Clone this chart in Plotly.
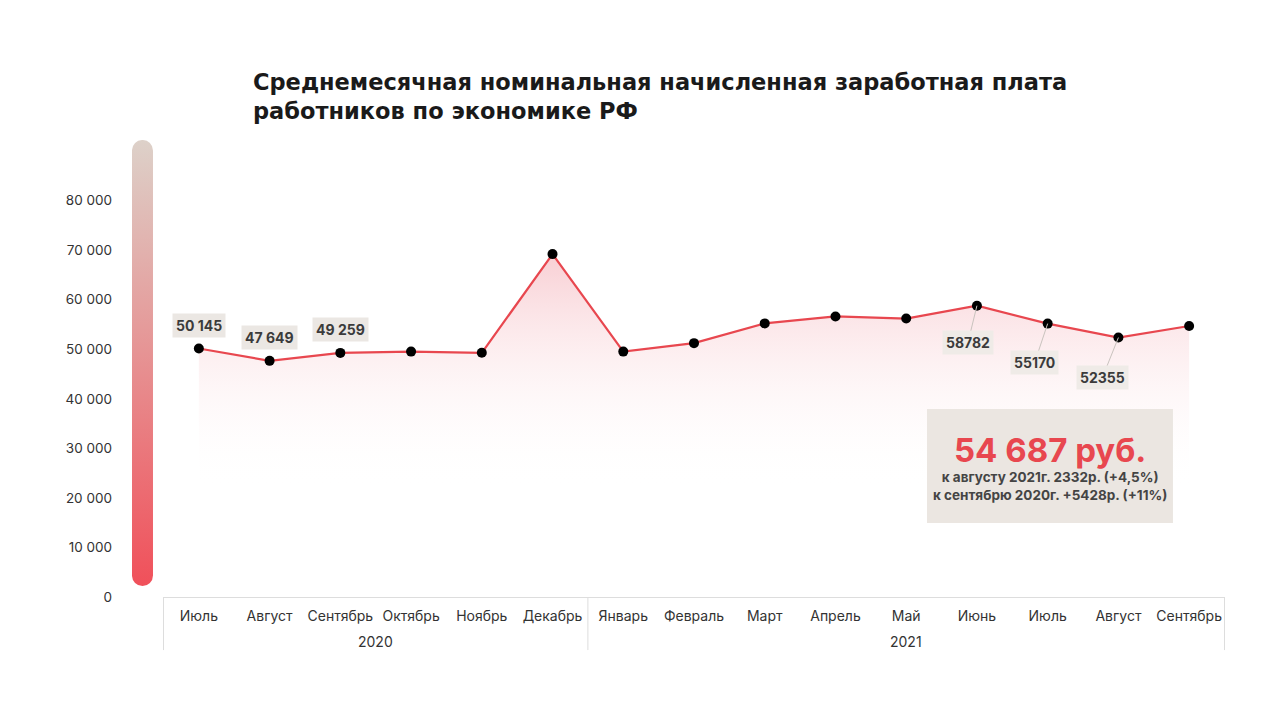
import base64
import plotly.graph_objects as go

# Data
years = ["2020"] * 6 + ["2021"] * 9
months = ["Июль", "Август", "Сентябрь", "Октябрь", "Ноябрь", "Декабрь",
          "Январь", "Февраль", "Март", "Апрель", "Май", "Июнь", "Июль", "Август", "Сентябрь"]
salary = [50145, 47649, 49259, 49516, 49274, 69191,
          49516, 51229, 55208, 56614, 56186, 58782, 55170, 52355, 54687]
y_ticks = [0, 10000, 20000, 30000, 40000, 50000, 60000, 70000, 80000]

# labels above points (index) and below points with leader lines
top_labels = [0, 1, 2]
bottom_labels = [11, 12, 13]
label_offsets = {11: (-9, 37), 12: (-13, 39), 13: (-16, 40)}

red = "#e8474f"
dark = "#3b3b3b"
font = "Inter"

# unique category keys, shown as month names
keys = [f"{m} {y}" for m, y in zip(months, years)]


def fmt(v):
    return f"{v:,}".replace(",", " ")


fig = go.Figure()

fig.add_trace(go.Scatter(
    x=keys, y=salary,
    mode="lines+markers",
    line=dict(color=red, width=2.2),
    marker=dict(color="black", size=10),
    fill="tozeroy",
    fillgradient=dict(
        type="vertical",
        start=70000, stop=22000,
        colorscale=[[0, "rgba(248,205,210,1)"], [1, "rgba(255,255,255,0)"]],
    ),
    hoverinfo="y",
    showlegend=False,
))

annotations = []
for i in top_labels:
    annotations.append(dict(
        x=keys[i], y=salary[i], xref="x", yref="y", text=f"<b>{fmt(salary[i])}</b>",
        showarrow=False, yshift=23, bgcolor="#ebe7e3", borderpad=3,
        font=dict(family=font, size=14, color=dark),
    ))
for i in bottom_labels:
    ax, ay = label_offsets[i]
    annotations.append(dict(
        x=keys[i], y=salary[i], xref="x", yref="y", text=f"<b>{salary[i]}</b>",
        showarrow=True, arrowhead=0, arrowwidth=1, arrowcolor="#c9c3be",
        ax=ax, ay=ay, bgcolor="#efebe7", borderpad=3,
        font=dict(family=font, size=14, color=dark),
    ))

# year labels under the months
year_groups = {}
for i, y in enumerate(years):
    year_groups.setdefault(y, []).append(i)
for y, idx in year_groups.items():
    annotations.append(dict(
        x=(idx[0] + idx[-1]) / 2, y=-0.099, xref="x", yref="paper",
        text=y, showarrow=False, xanchor="center", yanchor="middle",
        font=dict(family=font, size=14, color="#333333"),
    ))

# summary box
annotations.append(dict(
    x=0.835, y=0.33, xref="paper", yref="paper", showarrow=False,
    xanchor="center", yanchor="middle",
    text=f"<b>{fmt(salary[-1])} руб.</b>",
    font=dict(family=font, size=33, color=red),
))
annotations.append(dict(
    x=0.835, y=0.25, xref="paper", yref="paper", showarrow=False,
    xanchor="center", yanchor="middle",
    text="<b>к августу 2021г. 2332р. (+4,5%)<br>к сентябрю 2020г. +5428р. (+11%)</b>",
    font=dict(family=font, size=13.5, color="#444444"),
))

# dividers of the year groups
shapes = []
bounds = [-0.5] + [idx[-1] + 0.5 for idx in year_groups.values()]
for b in bounds:
    shapes.append(dict(
        type="line", xref="x", yref="paper", x0=b, x1=b, y0=0, y1=-0.119,
        line=dict(color="#dddddd", width=1), opacity=1,
    ))
shapes.append(dict(
    type="rect", xref="paper", yref="paper",
    x0=0.7194, x1=0.951, y0=0.166, y1=0.4215,
    fillcolor="#ebe6e1", line=dict(width=0), layer="above", opacity=1,
))

# gradient bar on the left side as an svg image
svg = (
    '<svg xmlns="http://www.w3.org/2000/svg" width="21" height="446" viewBox="0 0 21 446">'
    '<defs><linearGradient id="g" x1="0" y1="0" x2="0" y2="1">'
    '<stop offset="0" stop-color="#ddd1c9"/><stop offset="1" stop-color="#f0505a"/>'
    '</linearGradient></defs>'
    '<rect x="0" y="0" width="21" height="446" rx="10.5" ry="10.5" fill="url(#g)"/></svg>'
)
svg_uri = "data:image/svg+xml;base64," + base64.b64encode(svg.encode()).decode()

W, H = 1264, 704  # page body has an 8px margin
fig.update_layout(
    width=W, height=H,
    template="simple_white",
    paper_bgcolor="white", plot_bgcolor="white",
    separators=", ",
    margin=dict(l=155, r=47, t=143, b=115),
    title=dict(
        text="<b>Среднемесячная номинальная начисленная заработная плата<br>работников по экономике РФ</b>",
        x=245 / W, xanchor="left", xref="container",
        y=1 - 82 / H, yanchor="middle", yref="container",
        font=dict(family="DejaVu Sans", size=22.5, color="#1a1a1a"),
    ),
    font=dict(family=font, size=13, color="#333333"),
    xaxis=dict(
        type="category",
        tickvals=keys, ticktext=months,
        showline=True, linecolor="#dddddd", linewidth=1,
        ticks="outside", ticklen=6, tickcolor="rgba(0,0,0,0)", showgrid=False,
        tickfont=dict(family=font, size=14, color="#333333"),
    ),
    yaxis=dict(
        range=[0, 90000], tickvals=y_ticks, tickformat=",d",
        showline=False, ticks="", showgrid=False, zeroline=False,
        ticklabelstandoff=50,
        tickfont=dict(family=font, size=13.5, color="#333333"),
    ),
    shapes=shapes,
    images=[dict(
        source=svg_uri, xref="paper", yref="paper",
        x=-0.0292, y=1.0247, sizex=21 / 1062, sizey=1.0,
        xanchor="left", yanchor="top", sizing="stretch", layer="above",
    )],
    annotations=annotations,
)

fig.write_html("out.html")
